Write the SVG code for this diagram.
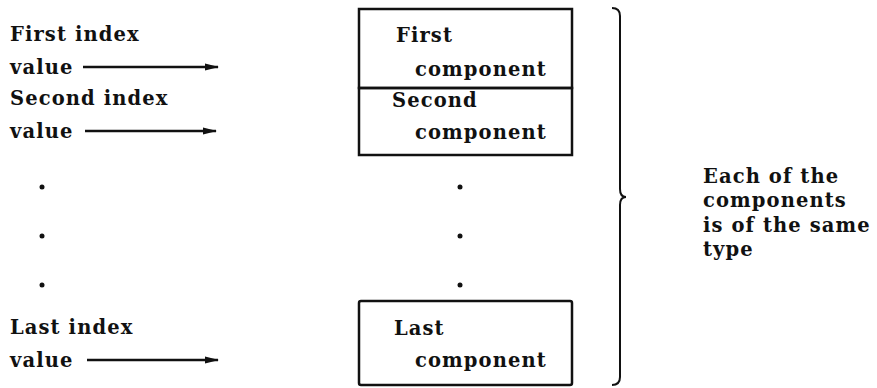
<svg xmlns="http://www.w3.org/2000/svg" width="877" height="388" viewBox="0 0 877 388">
<defs>
<style>
text{font-family:"DejaVu Serif","Liberation Serif",serif;font-weight:bold;font-size:19.5px;letter-spacing:1.1px;fill:#111}
.box{fill:none;stroke:#111;stroke-width:2.5}
.arr{stroke:#111;stroke-width:2.4;fill:none}
.dot{fill:#111}
</style>
<marker id="ah" markerWidth="14" markerHeight="10" refX="13" refY="5" orient="auto" markerUnits="userSpaceOnUse">
<path d="M0,1.5 L14,5 L0,8.5 Z" fill="#111"/>
</marker>
</defs>
<rect width="877" height="388" fill="#fff"/>
<g id="labels-left">
<text x="10" y="41">First index</text>
<text x="10" y="74">value</text>
<text x="10" y="105">Second index</text>
<text x="10" y="138">value</text>
<text x="10" y="334">Last index</text>
<text x="10" y="367">value</text>
</g>
<g id="connectors">
<line class="arr" x1="83" y1="67" x2="218" y2="67" marker-end="url(#ah)"/>
<line class="arr" x1="85" y1="131" x2="216" y2="131" marker-end="url(#ah)"/>
<line class="arr" x1="87" y1="360" x2="218" y2="360" marker-end="url(#ah)"/>
</g>
<g id="first-component">
<rect class="box" x="359" y="9" width="213" height="79"/>
<text x="396" y="42">First</text>
<text x="415" y="76">component</text>
</g>
<g id="second-component">
<rect class="box" x="359" y="88" width="213" height="67"/>
<text x="392" y="107">Second</text>
<text x="415" y="139">component</text>
</g>
<g id="last-component">
<rect class="box" x="359" y="301" width="213" height="84" rx="2"/>
<text x="394" y="335">Last</text>
<text x="415" y="367">component</text>
</g>
<g id="dots">
<circle class="dot" cx="42" cy="187" r="2.5"/>
<circle class="dot" cx="42" cy="236" r="2.5"/>
<circle class="dot" cx="42" cy="285" r="2.5"/>
<circle class="dot" cx="460" cy="187" r="2.5"/>
<circle class="dot" cx="460" cy="236" r="2.5"/>
<circle class="dot" cx="460" cy="285" r="2.5"/>
</g>
<g id="brace">
<path d="M612,8 Q620,8 620,16 L620,189 Q620,197 626,197 Q620,197 620,205 L620,377 Q620,385 612,385" fill="none" stroke="#111" stroke-width="2"/>
</g>
<g id="note">
<text x="703" y="183">Each of the</text>
<text x="703" y="207">components</text>
<text x="703" y="232">is of the same</text>
<text x="703" y="256">type</text>
</g>
</svg>
